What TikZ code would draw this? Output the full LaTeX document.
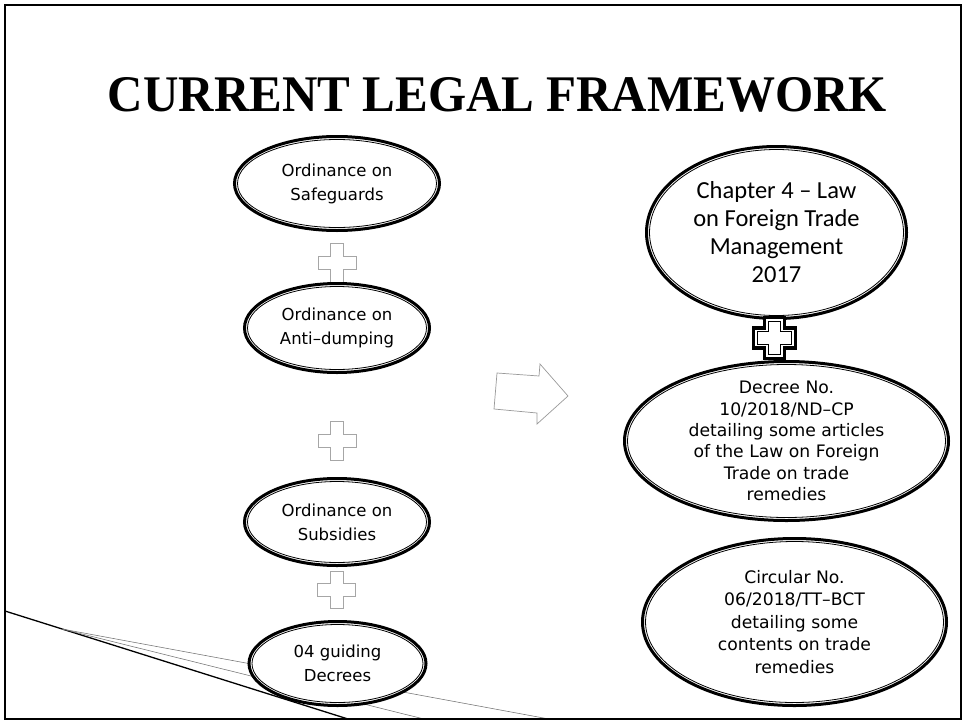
\documentclass[tikz,border=0pt]{standalone}
\usepackage{fontspec}
\usetikzlibrary{shapes.geometric}
\newfontfamily\titlefont{Liberation Serif}
\newfontfamily\bodyfont{DejaVu Sans}
\newfontfamily\calfont{Carlito}
\tikzset{
  dell/.style={ellipse, draw=black, fill=white, line width=3pt, inner sep=0pt},
  dellin/.style={draw=black, line width=0.8pt},
  etext/.style={align=center, inner sep=0pt},
  lefttext/.style={etext, font=\bodyfont\fontsize{16.5}{24}\selectfont},
  righttext/.style={etext, font=\bodyfont\fontsize{17.2}{21.3}\selectfont},
  circtext/.style={etext, font=\bodyfont\fontsize{17.2}{22.5}\selectfont},
  lawtext/.style={etext, font=\calfont\fontsize{24.5}{28}\selectfont},
  lplus/.style={draw=black!35, line width=0.7pt, fill=white},
  bplus/.style={draw=black, line width=3.2pt, fill=white},
  bplusin/.style={draw=black, line width=0.9pt},
  deco/.style={draw=black!55, line width=0.55pt},
  decob/.style={draw=black, line width=1.3pt},
  blockarrow/.style={draw=black!40, line width=0.7pt, fill=white},
  frame/.style={draw=black, line width=2.6pt},
  pics/cross/.style args={#1/#2/#3}{code={
    \path[pic actions] (-#1,-#3) -- (-#3,-#3) -- (-#3,-#2) -- (#3,-#2) -- (#3,-#3)
      -- (#1,-#3) -- (#1,#3) -- (#3,#3) -- (#3,#2) -- (-#3,#2) -- (-#3,#3) -- (-#1,#3) -- cycle;
  }},
}
% double ellipse: name, x, y, outer rx, outer ry
\newcommand\DEll[5]{%
  \node[dell, minimum width={2*#4pt-3pt}, minimum height={2*#5pt-3pt}] (#1) at (#2,#3) {};
  \draw[dellin] (#1.center) ellipse [x radius={#4pt-4.5pt}, y radius={#5pt-4.5pt}];
}
\begin{document}
\begin{tikzpicture}[x=1pt,y=-1pt]
\useasboundingbox (0,0) rectangle (966,723);
\fill[white] (0,0) rectangle (966,723);

% decorative lines at bottom left
\coordinate (dA) at (5,611);
\coordinate (dB) at (348,719);
\coordinate (dC) at (62,629);
\coordinate (dD) at (549,719);
\coordinate (dE) at (424,719);
\draw[decob] (dA) -- (dB);
\draw[deco] (dC) -- (dD);
\draw[deco] (dC) -- (dE);

% title
\node[inner sep=0pt] (title) at (497.5,95)
  {\resizebox{779pt}{34pt}{\titlefont\bfseries CURRENT LEGAL FRAMEWORK}};

% left column
\DEll{e1}{337}{183.5}{104}{48.5}
\node[lefttext] (t1) at (e1) {Ordinance on\\Safeguards};
\pic[lplus] (p1) at (337,262.5) {cross=19/19.5/6.5};
\DEll{e2}{337}{328}{94}{46}
\node[lefttext] (t2) at (e2) {Ordinance on\\Anti–dumping};
\pic[lplus] (p2) at (337,441) {cross=19/19.5/6.5};
\DEll{e3}{337}{522}{94}{45}
\node[lefttext] (t3) at (e3) {Ordinance on\\Subsidies};
\pic[lplus] (p3) at (336.5,590) {cross=19/18.5/6.5};
\DEll{e4}{337.5}{663.5}{90}{43.5}
\node[lefttext] (t4) at (e4) {04 guiding\\Decrees};

% block arrow
\draw[blockarrow] (497,373) -- (539,376) -- (540,364) -- (568,396) -- (537,424)
  -- (537,413) -- (494,409) -- cycle;

% right column
\DEll{ea}{776.5}{232.5}{131.5}{87.5}
\node[lawtext] (ta) at (ea) {Chapter 4 – Law\\on Foreign Trade\\Management\\2017};
\pic[bplus] (bp) at (774.5,338) {cross=21/20.5/10};
\pic[bplusin] at (774.5,338) {cross=16.8/16.3/6.2};
\DEll{eb}{786.5}{441}{163.5}{81}
\node[righttext] (tb) at (eb) {Decree No.\\10/2018/ND–CP\\detailing some articles\\of the Law on Foreign\\Trade on trade\\remedies};
\DEll{ec}{794.5}{622}{153.5}{85}
\node[circtext] (tc) at (ec) {Circular No.\\06/2018/TT–BCT\\detailing some\\contents on trade\\remedies};

% frame
\draw[frame] (5,5) rectangle (961,719);
\end{tikzpicture}
\end{document}
